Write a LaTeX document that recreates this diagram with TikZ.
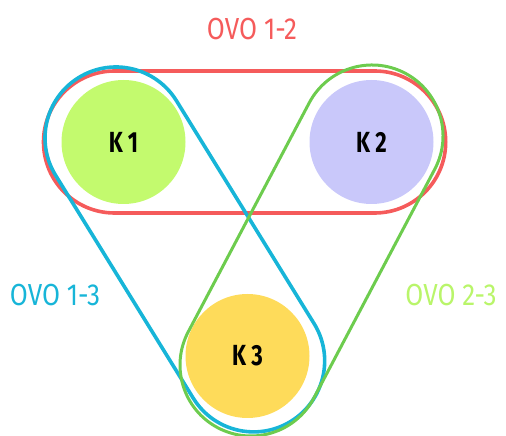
\documentclass[tikz,border=0pt]{standalone}
\usepackage{fontspec}
\setmainfont{Fira Sans}
\usepackage{graphicx}
\usepackage{tikz}
\usetikzlibrary{positioning}

\definecolor{ovored}{HTML}{F55B5B}
\definecolor{ovoblue}{HTML}{17B5D8}
\definecolor{ovogreen}{HTML}{6DCC4E}
\definecolor{labgreen}{HTML}{B9F56A}
\definecolor{kone}{HTML}{C3FA6E}
\definecolor{ktwo}{HTML}{C9C8FA}
\definecolor{kthree}{HTML}{FEDB5A}

\newcommand{\ovotext}[1]{\scalebox{1}[1.17]{#1}}
\newcommand{\ktext}[1]{\scalebox{0.85}[1.12]{#1}}

\begin{document}
\begin{tikzpicture}[x=1pt, y=1pt,
  every node/.style={font=\fontsize{26}{26}\selectfont},
  klass/.style={circle, minimum size=124pt, inner sep=0pt, font=\fontsize{26}{26}\selectfont\bfseries},
  ovo/.style={line width=3.6pt, line join=round}]
\useasboundingbox (0,0) rectangle (506,436);
% classes
\node (K1) [klass, fill=kone] at (123.5,294) {\ktext{K 1}};
\node (K2) [klass, fill=ktwo] at (371.5,294) {\ktext{K 2}};
\node (K3) [klass, fill=kthree] at (247.5,80) {\ktext{K 3}};
% one-vs-one groups
\draw[ovo, ovored, shift={(114.5,294)}, rotate=0]
  (0,-71) -- (260.2,-71) arc[start angle=-90, end angle=90, radius=71]
  -- (0,71) arc[start angle=90, end angle=270, radius=71] -- cycle;
\draw[ovo, ovoblue, shift={(116,298)}, rotate=-58.3]
  (0,-71) -- (262,-71) arc[start angle=-90, end angle=90, radius=71]
  -- (0,71) arc[start angle=90, end angle=270, radius=71] -- cycle;
\draw[ovo, ovogreen, line width=3pt, shift={(372,300)}, rotate=-117.85]
  (0,-71) -- (259,-71) arc[start angle=-90, end angle=90, radius=71]
  -- (0,71) arc[start angle=90, end angle=270, radius=71] -- cycle;
% labels
\node (l12) [text=ovored] at (252,407) {\ovotext{OVO 1-2}};
\node (l13) [text=ovoblue] at (55,141) {\ovotext{OVO 1-3}};
\node (l23) [text=labgreen] at (451,141) {\ovotext{OVO 2-3}};
\end{tikzpicture}
\end{document}
